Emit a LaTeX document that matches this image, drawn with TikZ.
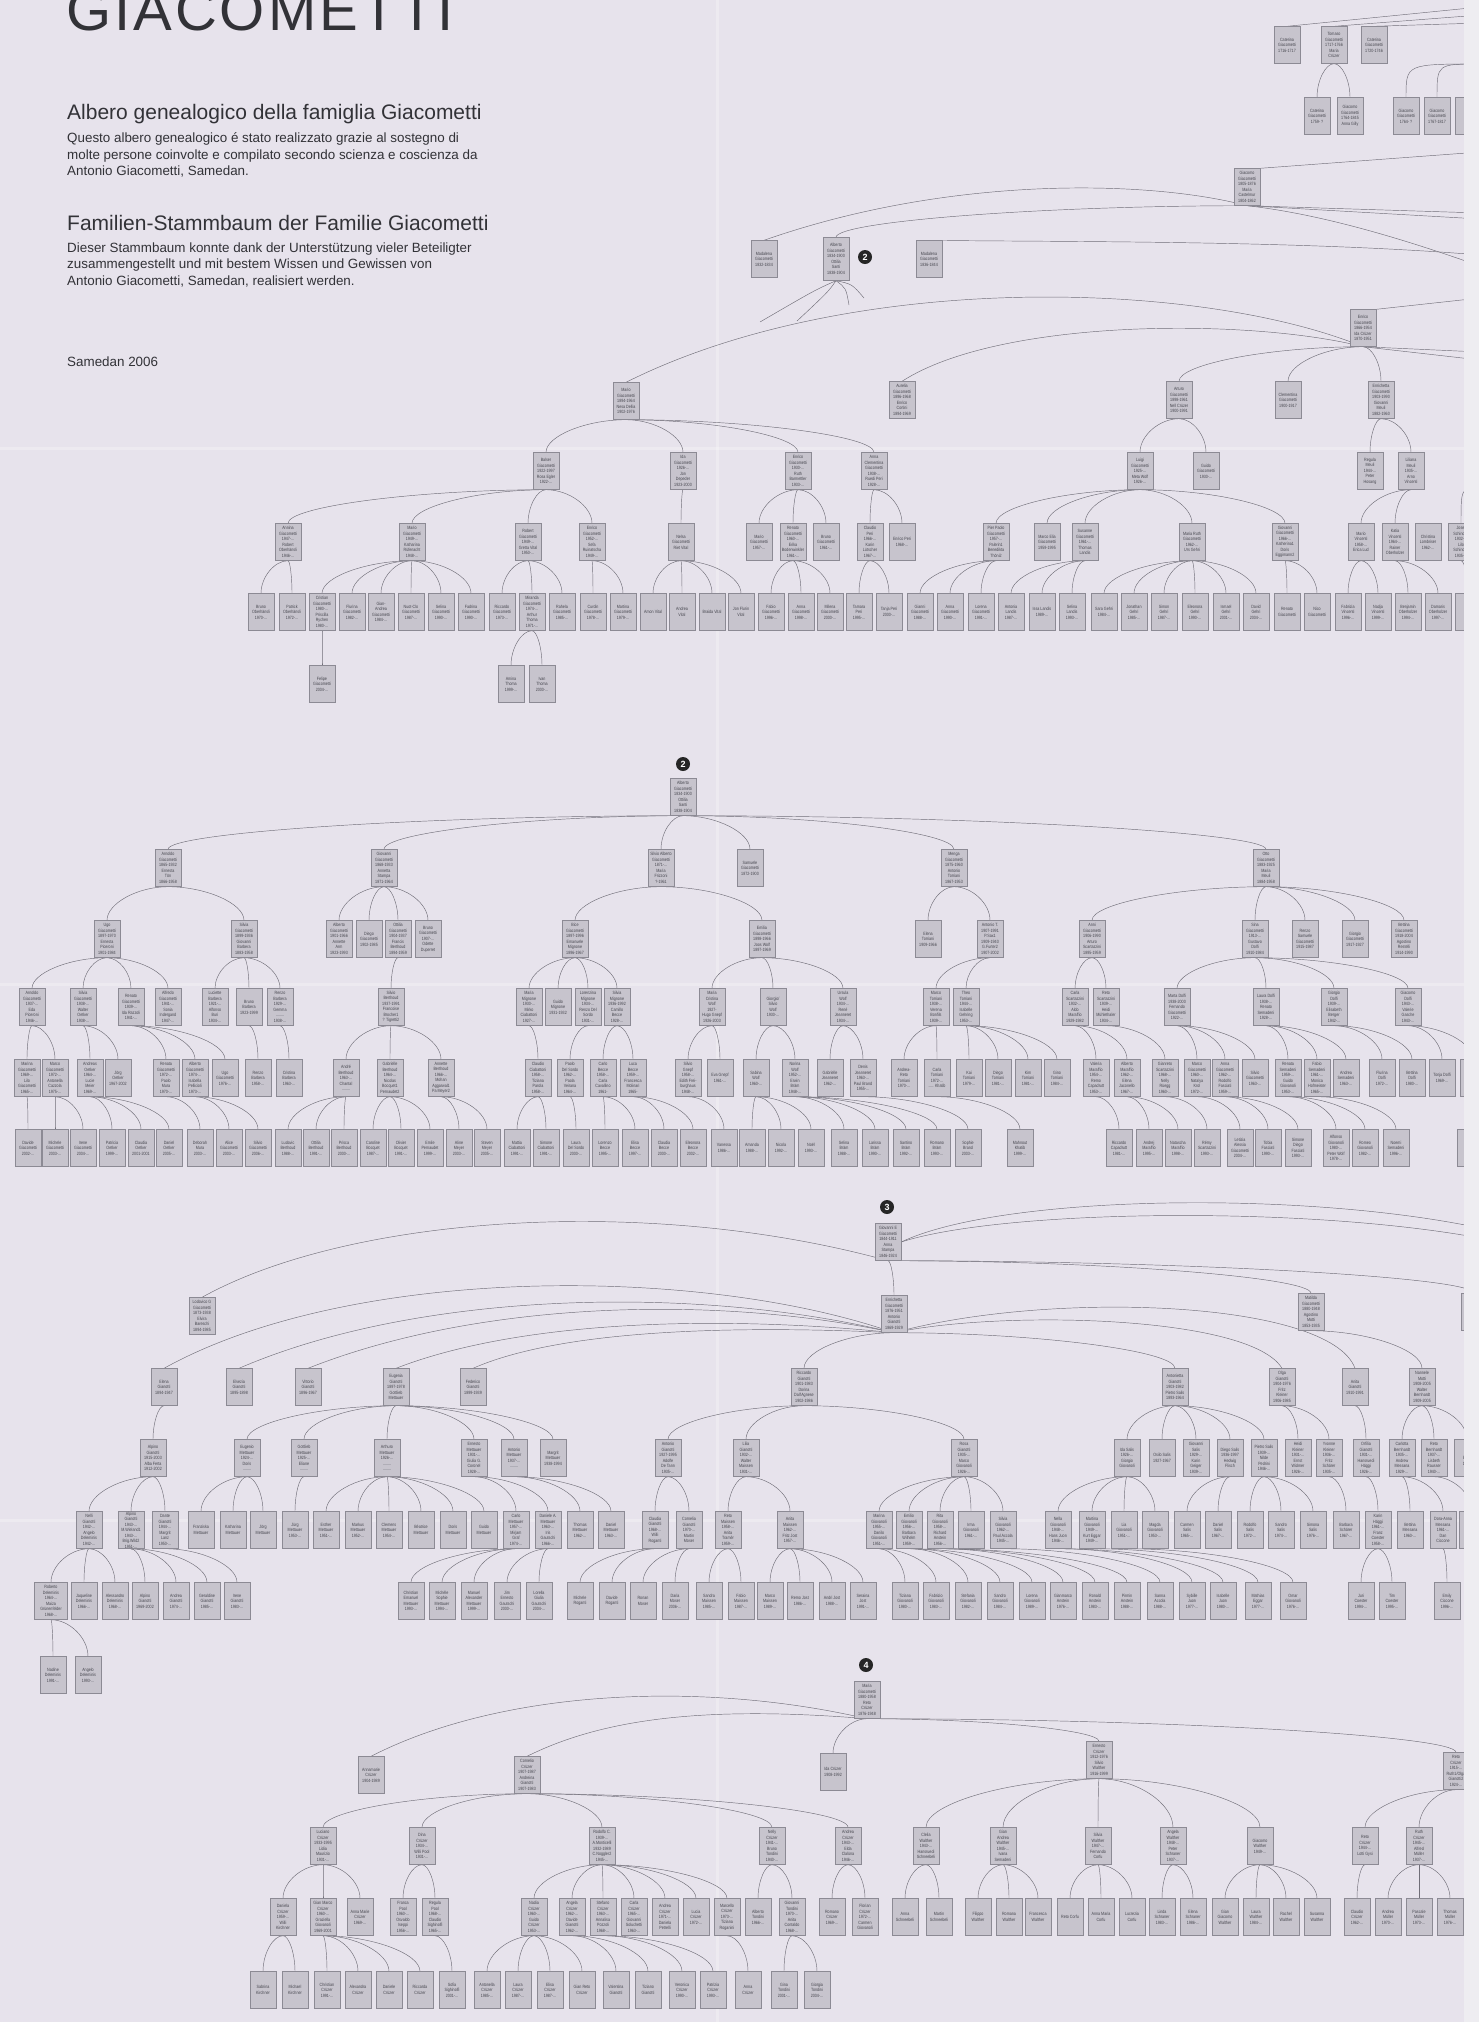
\documentclass[tikz,border=0pt]{standalone}
\usepackage{fontspec}
\setmainfont{Liberation Sans}
\newfontfamily\bxfont[FakeStretch=0.8]{Liberation Sans}
\usetikzlibrary{calc}
\definecolor{bgc}{RGB}{231,227,236}
\definecolor{bxf}{RGB}{199,196,205}
\definecolor{bxd}{RGB}{140,138,148}
\definecolor{txc}{RGB}{70,70,78}
\definecolor{lnc}{RGB}{112,110,120}
\definecolor{hdc}{RGB}{50,50,55}
\definecolor{stc}{RGB}{238,237,241}
\pgfdeclarelayer{back}
\pgfdeclarelayer{bg}
\pgfsetlayers{back,bg,main}
\newcommand\bx{\bxfont\fontsize{4.6}{5.5}\selectfont}
\newcommand\pn[4]{\node[pb] (#1) at (#2,#3) {#4};}
\newcommand\lk[2]{\foreach \cc in {#2}{\draw[lnk] (#1.south) .. controls ($(#1.south)!.5!(#1.south -| \cc.north)$) and ($(\cc.north)!.5!(#1.south -| \cc.north)$) .. (\cc.north);}}
\begin{document}
\begin{tikzpicture}[x=1pt,y=-1pt,
  pb/.style={draw=bxd,fill=bxf,line width=0.4pt,minimum width=26pt,minimum height=37pt,inner sep=0.4pt,align=center,font=\bx,text=txc},
  lnk/.style={draw=lnc,line width=0.45pt},
  numc/.style={circle,fill=black!85,text=white,inner sep=0pt,minimum size=14pt,font=\bfseries\fontsize{9}{9}\selectfont},
  hd/.style={anchor=base west,text=hdc,inner sep=0pt}]
\useasboundingbox (0,0) rectangle (1479,2022);
\begin{pgfonlayer}{back}
\fill[bgc] (0,0) rectangle (1479,2022);
\fill[white,opacity=0.25] (716,0) rectangle (719,2022);
\fill[white,opacity=0.25] (0,447) rectangle (1479,450);
\fill[white,opacity=0.25] (0,983) rectangle (1479,986);
\fill[white,opacity=0.25] (0,1519) rectangle (1479,1522);
\end{pgfonlayer}
% ---------- header ----------
\node[hd,font=\fontsize{58}{58}\selectfont] (ttl) at (66,30) {G\kern3pt I\kern3pt A\kern3pt C\kern3pt O\kern3pt M\kern3pt E\kern3pt T\kern3pt T\kern3pt I};
\node[hd,font=\fontsize{21}{24}\selectfont] (h1) at (67,119.5) {Albero genealogico della famiglia Giacometti};
\node[hd,font=\fontsize{13.4}{16}\selectfont] (h1a) at (67,142.7) {Questo albero genealogico é stato realizzato grazie al sostegno di};
\node[hd,font=\fontsize{13.4}{16}\selectfont] (h1b) at (67,159) {molte persone coinvolte e compilato secondo scienza e coscienza da};
\node[hd,font=\fontsize{13.4}{16}\selectfont] (h1c) at (67,175.3) {Antonio Giacometti, Samedan.};
\node[hd,font=\fontsize{21}{24}\selectfont] (h2) at (67,230) {Familien-Stammbaum der Familie Giacometti};
\node[hd,font=\fontsize{13.4}{16}\selectfont] (h2a) at (67,252.3) {Dieser Stammbaum konnte dank der Unterstützung vieler Beteiligter};
\node[hd,font=\fontsize{13.4}{16}\selectfont] (h2b) at (67,268.7) {zusammengestellt und mit bestem Wissen und Gewissen von};
\node[hd,font=\fontsize{13.4}{16}\selectfont] (h2c) at (67,285) {Antonio Giacometti, Samedan, realisiert werden.};
\node[hd,font=\fontsize{13.4}{16}\selectfont] (h3) at (67,366.7) {Samedan 2006};
% ================= SECTION 1 =================
\pn{a01}{1287}{45}{Caterina\\Giacometti\\1716-1717}
\pn{a02}{1334}{45}{Tomaso\\Giacometti\\1717-1766\\Maria\\Crüzer}
\pn{a03}{1374}{45}{Caterina\\Giacometti\\1720-1746}
\pn{a04}{1317}{116}{Caterina\\Giacometti\\1759- ?}
\pn{a05}{1350}{116}{Giacomo\\Giacometti\\1764-1845\\Anna Gilly}
\pn{a06}{1406}{116}{Giacomo\\Giacometti\\1764- ?}
\pn{a07}{1437}{116}{Giacomo\\Giacometti\\1767-1817}
\pn{a08}{1468}{116}{Ca\\Gia\\17}
\pn{g05}{1247}{187}{Giacomo\\Giacometti\\1805-1876\\Maria\\Castelmur\\1804-1862}
\pn{b1}{764}{259}{Madalena\\Giacometti\\1832-1834}
\node[pb,minimum height=43pt] (b2) at (836,259) {Alberto\\Giacometti\\1834-1900\\Ottilia\\Santi\\1838-1904};
\pn{b3}{929}{259}{Madalena\\Giacometti\\1836-1844}
\node[numc] (n2a) at (865,257) {2};
\pn{en}{1363}{328}{Enrico\\Giacometti\\1866-1954\\Ida Crüzer\\1870-1951}
\pn{m94}{626}{401}{Mario\\Giacometti\\1894-1964\\Nesa Dellia\\1902-1976}
\pn{au}{902}{400}{Aurelia\\Giacometti\\1896-1968\\Enrico\\Cortini\\1894-1969}
\pn{ar}{1179}{400}{Arturo\\Giacometti\\1898-1961\\Nell Crüzer\\1900-1991}
\pn{cl}{1288}{400}{Clementina\\Giacometti\\1900-1917}
\pn{ec}{1381}{400}{Enrichetta\\Giacometti\\1903-1990\\Giovanni\\Meuli\\1882-1960}
\pn{ba}{546}{471}{Balser\\Giacometti\\1922-1997\\Rosa Egler\\1922-...}
\pn{id}{683}{471}{Ida\\Giacometti\\1926-...\\Jon\\Depeder\\1923-2000}
\pn{e30}{798}{471}{Enrico\\Giacometti\\1930-...\\Ruth\\Barmettler\\1933-...}
\pn{ac}{874}{471}{Anna\\Clementina\\Giacometti\\1938-...\\Ruedi Peri\\1928-...}
\pn{lu}{1140}{471}{Luigi\\Giacometti\\1925-...\\Meta Wolf\\1926-...}
\pn{gu}{1206}{471}{Guido\\Giacometti\\1930-...}
\pn{rg}{1370}{471}{Regula\\Meuli\\1944-...\\Peter\\Hosang}
\pn{li}{1411}{471}{Liliana\\Meuli\\1935-...\\Arno\\Vincenti}
\pn{an}{288}{542}{Annina\\Giacometti\\1947-...\\Robert\\Oberhänsli\\1946-...}
\pn{m49}{412}{542}{Mario\\Giacometti\\1949-...\\Katharina\\Rüfenacht\\1948-...}
\pn{ro}{528}{542}{Robert\\Giacometti\\1949-...\\Gretta Vital\\1950-...}
\pn{e52}{592}{542}{Enrico\\Giacometti\\1952-...\\Sefa\\Ruinatscha\\1949-...}
\pn{ne}{681}{542}{Nelsa\\Giacometti\\Riet Vital}
\pn{m57}{759}{542}{Mario\\Giacometti\\1957-...}
\pn{r60}{793}{542}{Renato\\Giacometti\\1960-...\\Erika\\Bodenwinkler\\1961-...}
\pn{b61}{826}{542}{Bruno\\Giacometti\\1961-...}
\pn{cp}{870}{542}{Claudio\\Peri\\1966-...\\Karin\\Lütscher\\1967-...}
\pn{ep}{902}{542}{Enrico Peri\\1968-...}
\pn{pp}{996}{542}{Pier Paolo\\Giacometti\\1957-...\\Palerin1\\Benedikta\\Thöni2}
\pn{me}{1047}{542}{Marco Elia\\Giacometti\\1959-1995}
\pn{su}{1085}{542}{Susanne\\Giacometti\\1961-...\\Thomas\\Landis}
\pn{mr}{1192}{542}{Maria Ruth\\Giacometti\\1962-...\\Urs Gehri}
\pn{gi}{1285}{542}{Giovanni\\Giacometti\\1966-...\\Katherina1\\Doris\\Eggimann2}
\pn{mv}{1361}{542}{Mario\\Vincenti\\1958-...\\Erica Lud}
\pn{kv}{1395}{542}{Katia\\Vincenti\\1964-...\\Rainer\\Oberholzer}
\pn{chl}{1428}{542}{Christina\\Lombriser\\1962-...}
\pn{js}{1461}{542}{Josef\\Schindler\\1932-...\\Lilo\\Schindler\\1935-...}
\pn{z01}{261}{612}{Bruno\\Oberhänsli\\1970-...}
\pn{z02}{292}{612}{Patrick\\Oberhänsli\\1972-...}
\pn{z03}{322}{612}{Cristian\\Giacometti\\1980-...\\Priscilla\\Rychen\\1980-...}
\pn{z04}{352}{612}{Flurina\\Giacometti\\1982-...}
\pn{z05}{381}{612}{Gian-\\Andrea\\Giacometti\\1984-...}
\pn{z06}{411}{612}{Nuot-Clo\\Giacometti\\1987-...}
\pn{z07}{441}{612}{Selina\\Giacometti\\1990-...}
\pn{z08}{471}{612}{Fadrina\\Giacometti\\1990-...}
\pn{z09}{502}{612}{Riccardo\\Giacometti\\1973-...}
\pn{z10}{532}{612}{Miranda\\Giacometti\\1974-...\\Arthur\\Thoma\\1971-...}
\pn{z11}{562}{612}{Rahela\\Giacometti\\1985-...}
\pn{z12}{593}{612}{Curdin\\Giacometti\\1978-...}
\pn{z13}{623}{612}{Martina\\Giacometti\\1979-...}
\pn{z14}{653}{612}{Amon Vital}
\pn{z15}{682}{612}{Andrea\\Vital}
\pn{z16}{712}{612}{Braida Vital}
\pn{z17}{741}{612}{Jon Flurin\\Vital}
\pn{z18}{771}{612}{Fabio\\Giacometti\\1996-...}
\pn{z19}{801}{612}{Anna\\Giacometti\\1998-...}
\pn{z20}{830}{612}{Milena\\Giacometti\\2000-...}
\pn{z21}{859}{612}{Tamara\\Peri\\1995-...}
\pn{z22}{889}{612}{Tanja Peri\\2000-...}
\pn{z23}{920}{612}{Gianni\\Giacometti\\1988-...}
\pn{z24}{950}{612}{Anna\\Giacometti\\1990-...}
\pn{z25}{981}{612}{Lorena\\Giacometti\\1991-...}
\pn{z26}{1011}{612}{Antonia\\Landis\\1987-...}
\pn{z27}{1042}{612}{Issa Landis\\1989-...}
\pn{z28}{1072}{612}{Selina\\Landis\\1993-...}
\pn{z29}{1104}{612}{Sara Gehri\\1984-...}
\pn{z30}{1134}{612}{Jonathan\\Gehri\\1985-...}
\pn{z31}{1164}{612}{Simon\\Gehri\\1987-...}
\pn{z32}{1195}{612}{Eleonora\\Gehri\\1990-...}
\pn{z33}{1226}{612}{Ismael\\Gehri\\2001-...}
\pn{z34}{1256}{612}{David\\Gehri\\2004-...}
\pn{z35}{1287}{612}{Renato\\Giacometti}
\pn{z36}{1317}{612}{Nico\\Giacometti}
\pn{z37}{1348}{612}{Fabrizia\\Vincenti\\1996-...}
\pn{z38}{1378}{612}{Nadja\\Vincenti\\1999-...}
\pn{z39}{1408}{612}{Benjamin\\Oberholzer\\1994-...}
\pn{z40}{1438}{612}{Damaris\\Oberholzer\\1997-...}
\pn{z41}{1468}{612}{Li\\Sch\\19}
\pn{fe}{322}{684}{Felipe\\Giacometti\\2004-...}
\pn{amt}{511}{684}{Amina\\Thoma\\1999-...}
\pn{iv}{542}{684}{Ivan\\Thoma\\2000-...}
\coordinate (o1) at (1480,7); \coordinate (o2) at (1480,15); \coordinate (o3) at (1480,23);
\coordinate (o4) at (1480,64); \coordinate (o6) at (1480,152); \coordinate (o7) at (1480,213);
\coordinate (o8) at (1480,219); \coordinate (o9) at (1480,255); \coordinate (o10) at (1480,266);
\coordinate (o11) at (1480,298); \coordinate (o12) at (1480,352); \coordinate (o13) at (1480,360);
\coordinate (o14) at (1480,488);
\coordinate (s1) at (760,322); \coordinate (s2) at (797,321); \coordinate (s3) at (849,305); \coordinate (s4) at (864,298);
% ================= SECTION 2 =================
\node[numc] (n2b) at (683,764) {2};
\node[pb,minimum height=37pt] (al) at (683,797) {Alberto\\Giacometti\\1834-1900\\Ottilia\\Santi\\1838-1904};
\pn{arn}{168}{868}{Arnoldo\\Giacometti\\1865-1932\\Ernesta\\Tön\\1866-1958}
\pn{gio}{384}{868}{Giovanni\\Giacometti\\1868-1933\\Annetta\\Stampa\\1871-1964}
\pn{sal}{661}{868}{Silvio Alberto\\Giacometti\\1871-...\\Maria\\Frizzoni\\?-1961}
\pn{sam}{750}{868}{Samuele\\Giacometti\\1872-1900}
\pn{men}{954}{868}{Menga\\Giacometti\\1875-1960\\Antonio\\Torriani\\1867-1953}
\pn{ott}{1266}{868}{Otto\\Giacometti\\1883-1925\\Maria\\Meuli\\1884-1958}
\pn{ugo}{107}{939}{Ugo\\Giacometti\\1897-1970\\Ernesta\\Piceroni\\1901-1984}
\pn{svb}{244}{939}{Silvia\\Giacometti\\1899-1936\\Giovanni\\Barbera\\1883-1958}
\pn{alb}{339}{939}{Alberto\\Giacometti\\1901-1966\\Annette\\Arm\\1923-1993}
\pn{die}{369}{939}{Diego\\Giacometti\\1902-1985}
\pn{oti}{398}{939}{Ottilia\\Giacometti\\1904-1937\\Francis\\Berthoud\\1894-1959}
\pn{bru}{428}{939}{Bruno\\Giacometti\\1907-...\\Odette\\Duperret}
\pn{bic}{575}{939}{Bice\\Giacometti\\1897-1996\\Emanuele\\Mignone\\1896-1967}
\pn{emi}{762}{939}{Emilia\\Giacometti\\1898-1966\\Joos Wolf\\1897-1969}
\pn{elt}{928}{939}{Elena\\Torriani\\1909-1966}
\pn{ant}{990}{939}{Antonio T.\\1907-1991\\P.Sax1\\1909-1940\\G.Furter2\\1907-2002}
\pn{ann}{1092}{939}{Anni\\Giacometti\\1906-1990\\Arturo\\Scartazzini\\1895-1959}
\pn{sin}{1255}{939}{Sina\\Giacometti\\1913-...\\Gustavo\\Dolfi\\1910-1984}
\pn{rsa}{1305}{939}{Renzo\\Samuele\\Giacometti\\1915-1987}
\pn{gio2}{1355}{939}{Giorgio\\Giacometti\\1917-1927}
\pn{bet}{1404}{939}{Bettina\\Giacometti\\1918-2004\\Agostino\\Restelli\\1914-1990}
\pn{ar37}{32}{1007}{Arnoldo\\Giacometti\\1937-...\\Eda\\Piceroni\\1946-...}
\pn{si38}{83}{1007}{Silvia\\Giacometti\\1938-...\\Walter\\Oetker\\1938-...}
\pn{re39}{131}{1007}{Renato\\Giacometti\\1939-...\\Ida Razzoli\\1941-...}
\pn{alf}{168}{1007}{Alfredo\\Giacometti\\1941-...\\Sonia\\Indergand\\1947-...}
\pn{luc}{215}{1007}{Luciette\\Barbera\\1921-...\\Alfonso\\Buri\\1934-...}
\pn{bba}{249}{1007}{Bruno\\Barbera\\1923-1999}
\pn{rba}{280}{1007}{Renzo\\Barbera\\1929-...\\Gemma\\........\\1938-...}
\pn{svb2}{391}{1007}{Silvio\\Berthoud\\1937-1991\\Francoise\\Brocher1\\? Tigretti2}
\pn{mmi}{529}{1007}{Maria\\Mignone\\1930-...\\Mirko\\Ciabattoni\\1927-...}
\pn{gmi}{558}{1007}{Guido\\Mignone\\1931-1932}
\pn{lmi}{588}{1007}{Lorenzina\\Mignone\\1934-...\\Renzo Del\\Sordo\\1931-...}
\pn{smi}{617}{1007}{Silvia\\Mignone\\1936-1992\\Camillo\\Becce\\1928-...}
\pn{mcw}{712}{1007}{Maria\\Cristina\\Wolf\\1927-\\Hugo Gnepf\\1926-2003}
\pn{gsw}{773}{1007}{Giorgio/\\Silvio\\Wolf\\1930-...}
\pn{usw}{843}{1007}{Ursula\\Wolf\\1934-...\\René\\Jeanneret\\1934-...}
\pn{mto}{936}{1007}{Marco\\Torriani\\1938-...\\Verena\\Bonfils\\1939-...}
\pn{tto}{966}{1007}{Theo\\Torriani\\1944-...\\Isabelle\\Gehring\\1953-...}
\pn{csc}{1075}{1007}{Carla\\Scartazzini\\1932-...\\Aldo\\Maraffio\\1929-1982}
\pn{rsc}{1106}{1007}{Reto\\Scartazzini\\1939-...\\Heidi\\Mühlethaler\\1934-...}
\pn{mdo}{1177}{1007}{Marta Dolfi\\1938-2000\\Fernando\\Giacometti\\1922-...}
\pn{ldo}{1266}{1007}{Laura Dolfi\\1938-...\\Renato\\Semadeni\\1928-...}
\pn{gdo}{1334}{1007}{Giorgio\\Dolfi\\1939-...\\Elisabeth\\Berger\\1942-...}
\pn{gcd}{1408}{1007}{Giacomo\\Dolfi\\1943-...\\Valerie\\Gasche\\1943-...}
\pn{ma69}{27}{1078}{Marina\\Giacometti\\1969-...\\Lilo\\Giacometti\\1965-...}
\pn{mc72}{55}{1078}{Marco\\Giacometti\\1972-...\\Antonella\\Cazzola\\1975-...}
\pn{aoe}{90}{1078}{Andreas\\Oetker\\1964-...\\Lucie\\Meier\\1969-...}
\pn{joe}{118}{1078}{Jörg\\Oetker\\1967-2002}
\pn{rg72}{166}{1078}{Renata\\Giacometti\\1972-...\\Paolo\\Mura\\1970-...}
\pn{al74}{195}{1078}{Alberto\\Giacometti\\1974-...\\Isabella\\Pellicioli\\1973-...}
\pn{ug76}{225}{1078}{Ugo\\Giacometti\\1976-...}
\pn{rb58}{258}{1078}{Renzo\\Barbera\\1958-...}
\pn{cb63}{289}{1078}{Cristina\\Barbera\\1963-...}
\pn{abe}{346}{1078}{André\\Berthoud\\1963-...\\Chantal\\........}
\pn{gbe}{390}{1078}{Gabrielle\\Berthoud\\1964-...\\Nicolas\\Bocquet1\\Pernaudet2}
\pn{ane}{441}{1078}{Annette\\Berthoud\\1966-...\\Mohan\\Aggarwal1\\Pa Meyer2}
\pn{cci}{538}{1078}{Claudio\\Ciabattoni\\1958-...\\Tiziana\\Parola\\1958-...}
\pn{pds}{570}{1078}{Paolo\\Del Sordo\\1962-...\\Paola\\Veirana\\1964-...}
\pn{cbe}{603}{1078}{Carlo\\Becce\\1958-...\\Carla\\Cavallino\\1961-}
\pn{lbe}{633}{1078}{Luca\\Becce\\1959-...\\Francesca\\Molinari\\1965-}
\pn{sgn}{688}{1078}{Silvio\\Gnepf\\1958-...\\Edith Frei-\\burghaus\\1948-...}
\pn{egn}{720}{1078}{Eva Gnepf\\1961-...}
\pn{swo}{756}{1078}{Sabina\\Wolf\\1960-...}
\pn{nwo}{795}{1078}{Norina\\Wolf\\1952-...\\Erwin\\Bräm\\1948-...}
\pn{gje}{830}{1078}{Gabrielle\\Jeanneret\\1962-...}
\pn{dje}{863}{1078}{Denis\\Jeanneret\\1963-...\\Paul Brand\\1955-...}
\pn{art}{904}{1078}{Andrea-\\Reto\\Torriani\\1970-...}
\pn{cto}{937}{1078}{Carla\\Torriani\\1972-...\\..... Khatib}
\pn{kai}{969}{1078}{Kai\\Torriani\\1979-...}
\pn{dit}{998}{1078}{Diego\\Torriani\\1981-...}
\pn{kim}{1028}{1078}{Kim\\Torriani\\1981-...}
\pn{gno}{1057}{1078}{Gino\\Torriani\\1984-...}
\pn{vma}{1096}{1078}{Valeria\\Maraffio\\1954-...\\Remo\\Capadrutt\\1953-...}
\pn{ama}{1127}{1078}{Alberto\\Maraffio\\1962-...\\Elena\\Jaconello\\1967-...}
\pn{gsc}{1165}{1078}{Gianreto\\Scartazzini\\1968-...\\Nelly\\Rüegg\\1960-...}
\pn{mg60}{1197}{1078}{Marco\\Giacometti\\1960-...\\Natalya\\Krol\\1972-...}
\pn{ag62}{1225}{1078}{Anna\\Giacometti\\1962-...\\Rodolfo\\Fasciati\\1959-...}
\pn{sg63}{1255}{1078}{Silvio\\Giacometti\\1963-...}
\pn{rse}{1288}{1078}{Renata\\Semadeni\\1959-...\\Guido\\Giovanoli\\1953-...}
\pn{fse}{1317}{1078}{Fabio\\Semadeni\\1961-...\\Monica\\Hofmeister\\1965-...}
\pn{ase}{1346}{1078}{Andrea\\Semadeni\\1963-...}
\pn{fdo}{1382}{1078}{Flurina\\Dolfi\\1972-...}
\pn{bdo}{1412}{1078}{Bettina\\Dolfi\\1980-...}
\pn{tdo}{1442}{1078}{Tonja Dolfi\\1969-...}
\pn{vex}{1473}{1078}{Ve\\1\\O\\T\\1}
\pn{d02}{28}{1148}{Davide\\Giacometti\\2002-...}
\pn{mi03}{55}{1148}{Michele\\Giacometti\\2003-...}
\pn{ir04}{83}{1148}{Irene\\Giacometti\\2004-...}
\pn{pao}{112}{1148}{Patricia\\Oetker\\1999-...}
\pn{cla}{141}{1148}{Claudia\\Oetker\\2001-2001}
\pn{dao}{169}{1148}{Daniel\\Oetker\\2005-...}
\pn{dmu}{200}{1148}{Deborah\\Mura\\2003-...}
\pn{alc}{229}{1148}{Alice\\Giacometti\\2003-...}
\pn{sg06}{258}{1148}{Silvio\\Giacometti\\2006-...}
\pn{lbt}{288}{1148}{Ludovic\\Berthoud\\1988-...}
\pn{obt}{316}{1148}{Ottilia\\Berthoud\\1991-...}
\pn{pbt}{344}{1148}{Prisca\\Berthoud\\2000-...}
\pn{cbo}{373}{1148}{Caroline\\Bocquet\\1987-...}
\pn{obo}{401}{1148}{Olivier\\Bocquet\\1991-...}
\pn{epe}{430}{1148}{Emile\\Pernaudet\\1999-...}
\pn{ame}{459}{1148}{Aline\\Meyer\\2003-...}
\pn{sme}{487}{1148}{Steven\\Meyer\\2005-...}
\pn{mci}{517}{1148}{Mattia\\Ciabattoni\\1991-...}
\pn{sci}{546}{1148}{Simone\\Ciabattoni\\1991-...}
\pn{lds}{576}{1148}{Laura\\Del Sordo\\2000-...}
\pn{lbc}{605}{1148}{Lorenzo\\Becce\\1995-...}
\pn{ebc}{635}{1148}{Elisa\\Becce\\1997-...}
\pn{clb}{664}{1148}{Claudia\\Becce\\2000-...}
\pn{elb}{693}{1148}{Eleonora\\Becce\\2002-...}
\pn{van}{724}{1148}{Vanessa\\1986-...}
\pn{ama2}{752}{1148}{Amanda\\1988-...}
\pn{nic}{781}{1148}{Nicola\\1992-...}
\pn{noe}{811}{1148}{Noël\\1993-...}
\pn{sbr}{844}{1148}{Selina\\Bräm\\1988-...}
\pn{lbr}{875}{1148}{Larissa\\Bräm\\1990-...}
\pn{snb}{906}{1148}{Santino\\Bräm\\1992-...}
\pn{rbr}{937}{1148}{Romano\\Bräm\\1993-...}
\pn{sbd}{968}{1148}{Sophie\\Brand\\2003-...}
\pn{mkh}{1020}{1148}{Mahnout\\Khatib\\1999-...}
\pn{rca}{1119}{1148}{Riccardo\\Capadrutt\\1981-...}
\pn{ama3}{1149}{1148}{Andrej\\Maraffio\\1995-...}
\pn{nma}{1178}{1148}{Natascha\\Maraffio\\1998-...}
\pn{rsz}{1207}{1148}{Rémy\\Scartazzini\\1993-...}
\pn{lag}{1240}{1148}{Letizia\\Alessia\\Giacometti\\2004-...}
\pn{tfa}{1268}{1148}{Tobia\\Fasciati\\1990-...}
\pn{sdf}{1298}{1148}{Simone\\Diego\\Fasciati\\1993-...}
\pn{agi}{1336}{1148}{Alfonso\\Giovanoli\\1980-...\\Peter Wolf\\1978-...}
\pn{rgi}{1365}{1148}{Romeo\\Giovanoli\\1982-...}
\pn{nse}{1396}{1148}{Noemi\\Semadeni\\1996-...}
\pn{sx1}{1470}{1148}{Se\\Ti\\20}
% ================= SECTION 3 =================
\node[numc] (n3) at (887,1207) {3};
\pn{ge}{888}{1242}{Giovanni E\\Giacometti\\1844-1911\\Anna\\Stampa\\1846-1924}
\pn{enr}{894}{1314}{Enrichetta\\Giacometti\\1876-1951\\Antonio\\Gianotti\\1869-1929}
\pn{mat}{1311}{1312}{Matilda\\Giacometti\\1880-1948\\Agostino\\Motti\\1853-1935}
\pn{rxb}{1474}{1312}{}
\pn{lod}{202}{1316}{Lodovico G\\Giacometti\\1873-1938\\Elvira\\Bareschi\\1894-1985}
\pn{ele}{164}{1387}{Elena\\Gianotti\\1894-1947}
\pn{elv}{239}{1387}{Elvezia\\Gianotti\\1895-1898}
\pn{vit}{308}{1387}{Vittorio\\Gianotti\\1896-1967}
\pn{eug}{396}{1387}{Eugenia\\Gianotti\\1897-1978\\Gottlieb\\Mettauer}
\pn{fed}{473}{1387}{Federico\\Gianotti\\1899-1939}
\pn{ric}{804}{1387}{Riccardo\\Gianotti\\1901-1983\\Dorina\\Dall'Agnese\\1902-1986}
\pn{ani}{1175}{1387}{Antonietta\\Gianotti\\1903-1982\\Pietro Salis\\1893-1964}
\pn{olg}{1282}{1387}{Olga\\Gianotti\\1904-1976\\Fritz\\Kleiner\\1906-1985}
\pn{ait}{1355}{1387}{Anita\\Gianotti\\1910-1991}
\pn{nan}{1422}{1387}{Nannele\\Motti\\1908-2005\\Walter\\Bernhardt\\1909-2005}
\pn{alp}{153}{1458}{Alpino\\Gianotti\\1915-2003\\Alba Ferta\\1912-2002}
\pn{eum}{247}{1458}{Eugenio\\Mettauer\\1924-...\\Doris\\........}
\pn{gom}{304}{1458}{Gottlieb\\Mettauer\\1925-...\\Eliane\\........}
\pn{arm}{387}{1458}{Arthuro\\Mettauer\\1926-...\\........\\........}
\pn{erm}{474}{1458}{Ernesto\\Mettauer\\1931-...\\Giulia G.\\Coronel\\1928-...}
\pn{anm}{514}{1458}{Antonio\\Mettauer\\1937-...\\........}
\pn{mam}{553}{1458}{Margrit\\Mettauer\\1938-1994}
\pn{ag27}{668}{1458}{Antonio\\Gianotti\\1927-1995\\Adolfe\\De Tann\\1935-...}
\pn{lil}{746}{1458}{Lilia\\Gianotti\\1932-...\\Walter\\Maissen\\1931-...}
\pn{ros}{964}{1458}{Rosa\\Gianotti\\1935-...\\Marco\\Giovanoli\\1926-...}
\pn{ida}{1127}{1458}{Ida Salis\\1926-...\\Giorgio\\Giovanoli}
\pn{osi}{1162}{1458}{Osilo Salis\\1927-1967}
\pn{gsa}{1196}{1458}{Giovanni\\Salis\\1929-...\\Karin\\Geiger\\1939-...}
\pn{dsa}{1230}{1458}{Diego Salis\\1936-1997\\Hedwig\\Flisch}
\pn{psa}{1264}{1458}{Pietro Salis\\1939-...\\Nilde\\Pedrini\\1946-...}
\pn{hkl}{1298}{1458}{Heidi\\Kleiner\\1931-...\\Ernst\\Widmer\\1926-...}
\pn{ykl}{1329}{1458}{Yvonne\\Kleiner\\1936-...\\Fritz\\Schärer\\1935-...}
\pn{orf}{1366}{1458}{Orfilia\\Gianotti\\1931-...\\Hansruedi\\Häggi\\1926-...}
\pn{car}{1402}{1458}{Carlotta\\Bernhardt\\1935-...\\Andrew\\Messana\\1929-...}
\pn{rbe}{1434}{1458}{Reto\\Bernhardt\\1937-...\\Lisbeth\\Rausser\\1940-...}
\pn{sbe}{1467}{1458}{Sil\\Bern\\1941}
\pn{nel}{89}{1530}{Nelli\\Gianotti\\1942-...\\Angelo\\Deleminis\\1942-...}
\pn{a43}{131}{1530}{Alpino\\Gianotti\\1943-...\\M.Wieland1\\1943-...\\Brig.Wild2\\1951-...}
\pn{dan}{165}{1530}{Dante\\Gianotti\\1944-...\\Margrit\\Lanz\\1950-...}
\pn{fra}{201}{1530}{Franziska\\Mettauer}
\pn{kat}{233}{1530}{Katharina\\Mettauer}
\pn{jom}{263}{1530}{Jörg\\Mettauer}
\pn{jum}{295}{1530}{Jürg\\Mettauer\\1953-...}
\pn{est}{326}{1530}{Esther\\Mettauer\\1951-...}
\pn{mar}{358}{1530}{Markus\\Mettauer\\1952-...}
\pn{cle}{389}{1530}{Clemens\\Mettauer\\1954-...}
\pn{bea}{421}{1530}{Béatrice\\Mettauer}
\pn{dor}{453}{1530}{Doris\\Mettauer}
\pn{gui}{484}{1530}{Guido\\Mettauer}
\pn{cam}{516}{1530}{Carlo\\Mettauer\\1957-...\\Mirjam\\Graf\\1974-...}
\pn{dam}{548}{1530}{Daniele A.\\Mettauer\\1963-...\\Iris\\Gautschi\\1966-...}
\pn{thm}{580}{1530}{Thomas\\Mettauer\\1962-...}
\pn{dnm}{611}{1530}{Daniel\\Mettauer\\1963-...}
\pn{cgi}{655}{1530}{Claudia\\Gianotti\\1968-...\\Willi\\Roganti}
\pn{cog}{689}{1530}{Cornelia\\Gianotti\\1970-...\\Martin\\Moser}
\pn{rma}{728}{1530}{Reto\\Maissen\\1958-...\\Anita\\Tramèr\\1959-...}
\pn{ama4}{790}{1530}{Anita\\Maissen\\1962-...\\Fritz Jost\\1957-...}
\pn{mgi}{879}{1530}{Marina\\Giovanoli\\1955-...\\Danilo\\Giovanoli\\1951-...}
\pn{egi}{909}{1530}{Emilio\\Giovanoli\\1956-...\\Barbara\\Wilhelm\\1959-...}
\pn{rgv}{940}{1530}{Rita\\Giovanoli\\1958-...\\Richard\\Anstein\\1956-...}
\pn{igi}{971}{1530}{Irma\\Giovanoli\\1961-...}
\pn{sgi}{1003}{1530}{Silvia\\Giovanoli\\1962-...\\Paul Accola\\1945-...}
\pn{ngi}{1058}{1530}{Nella\\Giovanoli\\1948-...\\Hans Juon\\1946-...}
\pn{mtg}{1092}{1530}{Martina\\Giovanoli\\1949-...\\Kurt Eggar\\1949-...}
\pn{lgi}{1124}{1530}{Lia\\Giovanoli\\1951-...}
\pn{mag}{1155}{1530}{Magda\\Giovanoli\\1953-...}
\pn{cas}{1187}{1530}{Carmen\\Salis\\1965-...}
\pn{das}{1218}{1530}{Daniel\\Salis\\1967-...}
\pn{ros2}{1250}{1530}{Rodolfo\\Salis\\1972-...}
\pn{ssa}{1281}{1530}{Sandro\\Salis\\1974-...}
\pn{sms}{1313}{1530}{Simona\\Salis\\1976-...}
\pn{bsc}{1346}{1530}{Barbara\\Schärer\\1967-...}
\pn{kha}{1378}{1530}{Karin\\Häggi\\1961-...\\Franz\\Coester\\1958-...}
\pn{bme}{1410}{1530}{Bettina\\Messana\\1960-...}
\pn{dme}{1443}{1530}{Dora-Anna\\Messana\\1961-...\\Dan\\Ciccone}
\pn{axb}{1472}{1530}{A\\B\\1}
\node[pb,minimum width=33pt] (rde) at (51,1601) {Roberto\\Deleminis\\1964-...\\Maiza\\Grünenfelder\\1968-...};
\pn{jde}{84}{1601}{Jaqueline\\Deleminis\\1966-...}
\pn{ade}{115}{1601}{Alessandro\\Deleminis\\1968-...}
\pn{a69}{145}{1601}{Alpino\\Gianotti\\1969-2002}
\pn{agn}{176}{1601}{Andrea\\Gianotti\\1974-...}
\pn{gge}{207}{1601}{Geraldine\\Gianotti\\1985-...}
\pn{ign}{237}{1601}{Irene\\Gianotti\\1983-...}
\pn{cme}{411}{1601}{Christian\\Emanuel\\Mettauer\\1993-...}
\pn{mso}{442}{1601}{Michèle\\Sophie\\Mettauer\\1994-...}
\pn{mam2}{474}{1601}{Manuel\\Alexander\\Mettauer\\1999-...}
\pn{jga}{507}{1601}{Jim\\Ernesto\\Gautschi\\2000-...}
\pn{lga}{539}{1601}{Lorella\\Giulia\\Gautschi\\2004-...}
\pn{mro}{580}{1601}{Michele\\Roganti}
\pn{dro}{612}{1601}{Davide\\Roganti}
\pn{rmo}{643}{1601}{Ronan\\Moser}
\pn{dmo}{675}{1601}{Daria\\Moser\\2006-...}
\pn{sma}{709}{1601}{Sandra\\Maissen\\1985-...}
\pn{fma}{741}{1601}{Fabio\\Maissen\\1987-...}
\pn{mma}{770}{1601}{Marco\\Maissen\\1989-...}
\pn{rjo}{800}{1601}{Remo Jost\\1986-...}
\pn{ajo}{832}{1601}{Andri Jost\\1988-...}
\pn{sjo}{863}{1601}{Seraina\\Jost\\1991-...}
\pn{tgi}{905}{1601}{Tiziana\\Giovanoli\\1980-...}
\pn{fgi}{936}{1601}{Fabrizio\\Giovanoli\\1983-...}
\pn{stg}{968}{1601}{Stefania\\Giovanoli\\1982-...}
\pn{sag}{1000}{1601}{Sandro\\Giovanoli\\1984-...}
\pn{log}{1032}{1601}{Lorena\\Giovanoli\\1989-...}
\pn{gan}{1063}{1601}{Gianmarco\\Anstein\\1976-...}
\pn{ran}{1095}{1601}{Ronald\\Anstein\\1983-...}
\pn{pan}{1127}{1601}{Pirmin\\Anstein\\1988-...}
\pn{sac}{1160}{1601}{Sanna\\Accola\\1988-...}
\pn{syj}{1192}{1601}{Sybille\\Juon\\1977-...}
\pn{isj}{1223}{1601}{Isabelle\\Juon\\1980-...}
\pn{meg}{1258}{1601}{Mathias\\Eggar\\1977-...}
\pn{omg}{1293}{1601}{Omar\\Giovanoli\\1976-...}
\pn{jco}{1361}{1601}{Juri\\Coester\\1994-...}
\pn{tco}{1392}{1601}{Tim\\Coester\\1995-...}
\pn{ecc}{1447}{1601}{Emily\\Ciccone\\1996-...}
\pn{nad}{53}{1675}{Nadine\\Deleminis\\1991-...}
\pn{ang}{88}{1675}{Angelo\\Deleminis\\1993-...}
\coordinate (o31) at (1480,1228); \coordinate (o32) at (1480,1238);
% ================= SECTION 4 =================
\node[numc] (n4) at (866,1665) {4};
\pn{mar80}{867}{1700}{Maria\\Giacometti\\1880-1958\\Reto\\Crüzer\\1876-1948}
\pn{anm4}{371}{1775}{Annamarie\\Crüzer\\1904-1989}
\pn{cor}{527}{1775}{Cornelio\\Crüzer\\1907-1987\\Andreina\\Gianotti\\1907-1983}
\pn{icr}{833}{1772}{Ida Crüzer\\1908-1992}
\pn{ern}{1099}{1760}{Ernesto\\Crüzer\\1912-1976\\Silvio\\Walther\\1916-1999}
\pn{r15}{1456}{1771}{Reto\\Crüzer\\1915-...\\Ruth1/Olga\\Gianotti2\\1924-...}
\pn{lcr}{323}{1846}{Luciano\\Crüzer\\1933-1995\\Lidia\\Maurizio\\1931-...}
\pn{dcr}{422}{1846}{Dina\\Crüzer\\1934-...\\Willi Pool\\1931-...}
\pn{rod}{602}{1846}{Rodolfo C.\\1939-...\\A.Monticelli\\1932-1989\\C.Noggler2\\1945-...}
\pn{ncr}{772}{1846}{Nelly\\Crüzer\\1941-...\\Bruno\\Tondini\\1940-...}
\pn{acr}{848}{1846}{Andrea\\Crüzer\\1943-...\\Elda\\Clalüna\\1946-...}
\pn{clw}{926}{1846}{Clelia\\Walther\\1943-...\\Hansruedi\\Schneebeli}
\pn{gaw}{1003}{1846}{Gian\\Andrea\\Walther\\1945-...\\Ivana\\Semadeni}
\pn{svw}{1098}{1846}{Silvia\\Walther\\1947-...\\Fernando\\Corfu}
\pn{agw}{1173}{1846}{Angela\\Walther\\1948-...\\Peter\\Schraner\\1937-...}
\pn{gcw}{1260}{1846}{Giacomo\\Walther\\1949-...}
\pn{rc44}{1365}{1846}{Reto\\Crüzer\\1944-...\\Lotti Gysi}
\pn{rcm}{1419}{1846}{Ruth\\Crüzer\\1945-...\\Alfred\\Müller\\1937-...}
\pn{dac}{283}{1917}{Daniela\\Crüzer\\1959-...\\Willi\\Kirchner}
\pn{gmc}{323}{1917}{Gian Marco\\Crüzer\\1960-...\\Graziella\\Giovanoli\\1969-2001}
\pn{amc}{360}{1917}{Anna Marie\\Crüzer\\1969-...}
\pn{fpo}{403}{1917}{Franca\\Pool\\1960-...\\Osvaldo\\Iseppi\\1956-...}
\pn{rpo}{435}{1917}{Regula\\Pool\\1968-...\\Claudio\\Sighinolfi\\1965-...}
\pn{nac}{534}{1917}{Nadia\\Crüzer\\1960-...\\Guido\\Crüzer\\1953-...}
\pn{anc}{572}{1917}{Angela\\Crüzer\\1962-...\\Davide\\Gianotti\\1962-...}
\pn{stc}{603}{1917}{Stefano\\Crüzer\\1963-...\\Annalisa\\Pozzoli\\1968-...}
\pn{cac}{634}{1917}{Carla\\Crüzer\\1965-...\\Giovanni\\Soluchetti\\1963-...}
\pn{a71}{665}{1917}{Andrea\\Crüzer\\1971-...\\Daniela\\Petrelli}
\pn{lcc}{696}{1917}{Lucia\\Crüzer\\1972-...}
\pn{mcc}{727}{1917}{Marcello\\Crüzer\\1973-...\\Tiziana\\Roganini}
\pn{ato}{758}{1917}{Alberto\\Tondini\\1966-...}
\pn{gto}{792}{1917}{Giovanni\\Tondini\\1970-...\\Anita\\Contaldo\\1968-...}
\pn{rcr}{832}{1917}{Romano\\Crüzer\\1969-...}
\pn{fcr}{865}{1917}{Florian\\Crüzer\\1972-...\\Carmen\\Giovanoli}
\pn{asc}{905}{1917}{Anna\\Schneebeli}
\pn{msc}{939}{1917}{Martin\\Schneebeli}
\pn{fwa}{978}{1917}{Filippo\\Walther}
\pn{rwa}{1009}{1917}{Romana\\Walther}
\pn{frw}{1038}{1917}{Francesca\\Walther}
\pn{rco}{1070}{1917}{Reto Corfu}
\pn{amf}{1101}{1917}{Anna Maria\\Corfu}
\pn{lco}{1132}{1917}{Lucrezia\\Corfu}
\pn{lsc}{1162}{1917}{Linda\\Schraner\\1983-...}
\pn{esc}{1193}{1917}{Elena\\Schraner\\1986-...}
\pn{ggw}{1225}{1917}{Gian\\Giacomo\\Walther}
\pn{law}{1256}{1917}{Laura\\Walther\\1984-...}
\pn{raw}{1286}{1917}{Rachel\\Walther}
\pn{suw}{1317}{1917}{Susanna\\Walther}
\pn{ccr}{1357}{1917}{Claudio\\Crüzer\\1962-...}
\pn{amu}{1388}{1917}{Andrea\\Müller\\1970-...}
\pn{pmu}{1419}{1917}{Pascale\\Müller\\1973-...}
\pn{tmu}{1450}{1917}{Thomas\\Müller\\1976-...}
\pn{ski}{263}{1990}{Sabrina\\Kirchner}
\pn{mki}{295}{1990}{Michael\\Kirchner}
\pn{chc}{327}{1990}{Christian\\Crüzer\\1991-...}
\pn{alx}{358}{1990}{Alexandra\\Crüzer}
\pn{dnc}{389}{1990}{Daniele\\Crüzer}
\pn{ric2}{420}{1990}{Riccarda\\Crüzer}
\pn{sof}{452}{1990}{Sofia\\Sighinolfi\\2001-...}
\pn{anc2}{487}{1990}{Antonella\\Crüzer\\1985-...}
\pn{lac}{518}{1990}{Laura\\Crüzer\\1987-...}
\pn{elc}{550}{1990}{Elisa\\Crüzer\\1987-...}
\pn{grc}{582}{1990}{Gian Reto\\Crüzer}
\pn{vgi}{616}{1990}{Valentina\\Gianotti}
\pn{tgi2}{648}{1990}{Tiziano\\Gianotti}
\pn{vcr}{682}{1990}{Veronica\\Crüzer\\1990-...}
\pn{pcr}{713}{1990}{Patrizia\\Crüzer\\1993-...}
\pn{acz}{748}{1990}{Anna\\Crüzer}
\pn{gtd}{784}{1990}{Gina\\Tondini\\2001-...}
\pn{gid}{817}{1990}{Giorgia\\Tondini\\2004-...}
% ================= CONNECTORS =================
\begin{pgfonlayer}{bg}
% section 1
\draw[lnk] (a01.north) -- (o1); \draw[lnk] (a02.north) -- (o2); \draw[lnk] (a03.north) -- (o3);
\foreach \cc in {a06,a07,a08}{\draw[lnk] (o4) .. controls (\cc.north |- o4) .. (\cc.north);}
\lk{a02}{a04,a05}
\draw[lnk] (g05.north east) -- (o6);
\draw[lnk] (g05.south) -- (o7); \draw[lnk] (g05.south) -- (o8);
\draw[lnk] (g05.south) .. controls (1330,215) and (1420,245) .. (o10);
\draw[lnk] (g05.south) .. controls (1150,180) and (950,175) .. (b1.north);
\lk{g05}{b2}
\draw[lnk] (b3.north) .. controls (1050,242) and (1300,240) .. (o9);
\draw[lnk] (b2.south) .. controls (815,290) .. (s1);
\draw[lnk] (b2.south) .. controls (828,292) .. (s2);
\draw[lnk] (b2.south) .. controls (846,288) .. (s3);
\draw[lnk] (b2.south) .. controls (852,284) .. (s4);
\draw[lnk] (en.north east) -- (o11);
\draw[lnk] (en.south) -- (o12); \draw[lnk] (en.south) -- (o13);
\draw[lnk] (en.south) .. controls (1200,280) and (850,270) .. (m94.north);
\draw[lnk] (en.south) .. controls (1250,318) and (1000,318) .. (au.north);
\lk{en}{ar,cl,ec}
\draw[lnk] (o14) .. controls (js.north |- o14) .. (js.north);
\lk{m94}{ba,id,e30,ac}
\lk{ba}{an,m49,ro,e52}
\lk{id}{ne}
\lk{e30}{m57,r60,b61}
\lk{ac}{cp,ep}
\lk{ar}{lu,gu}
\lk{ec}{rg,li}
\lk{lu}{pp,me,su,mr,gi}
\lk{li}{mv,kv}
\lk{an}{z01,z02}
\lk{m49}{z03,z04,z05,z06,z07,z08}
\lk{ro}{z09,z10,z11}
\lk{e52}{z12,z13}
\lk{ne}{z14,z15,z16,z17}
\lk{r60}{z18,z19,z20}
\lk{cp}{z21,z22}
\lk{pp}{z23,z24,z25}
\lk{su}{z26,z27,z28}
\lk{mr}{z29,z30,z31,z32,z33,z34}
\lk{gi}{z35,z36}
\lk{mv}{z37,z38}
\lk{kv}{z39,z40}
\lk{js}{z41}
\lk{z03}{fe}
\lk{z10}{amt,iv}
% section 2
\lk{al}{arn,gio,sal,sam,men,ott}
\lk{arn}{ugo,svb}
\lk{gio}{alb,die,oti,bru}
\lk{sal}{bic,emi}
\lk{men}{elt,ant}
\lk{ott}{ann,sin,rsa,gio2,bet}
\lk{ugo}{ar37,si38,re39,alf}
\lk{svb}{luc,bba,rba}
\lk{oti}{svb2}
\lk{bic}{mmi,gmi,lmi,smi}
\lk{emi}{mcw,gsw,usw}
\lk{ant}{mto,tto}
\lk{ann}{csc,rsc}
\lk{sin}{mdo,ldo,gdo,gcd}
\lk{ar37}{ma69,mc72}
\lk{si38}{aoe,joe}
\lk{re39}{rg72,al74,ug76}
\lk{bba}{rb58}
\lk{rba}{cb63}
\lk{svb2}{abe,gbe,ane}
\lk{mmi}{cci}
\lk{lmi}{pds}
\lk{smi}{cbe,lbe}
\lk{mcw}{sgn,egn}
\lk{gsw}{swo,nwo}
\lk{usw}{gje,dje}
\lk{mto}{art,cto}
\lk{tto}{kai,dit,kim,gno}
\lk{csc}{vma,ama}
\lk{rsc}{gsc}
\lk{mdo}{mg60,ag62,sg63}
\lk{ldo}{rse,fse,ase}
\lk{gdo}{fdo,bdo}
\lk{gcd}{tdo,vex}
\lk{ma69}{d02}
\lk{mc72}{mi03,ir04}
\lk{aoe}{pao,cla,dao}
\lk{rg72}{dmu}
\lk{al74}{alc,sg06}
\lk{abe}{lbt,obt,pbt}
\lk{gbe}{cbo,obo,epe}
\lk{ane}{ame,sme}
\lk{cci}{mci,sci}
\lk{pds}{lds}
\lk{cbe}{lbc,ebc}
\lk{lbe}{clb,elb}
\lk{sgn}{van}
\lk{swo}{ama2,nic,noe}
\lk{nwo}{sbr,lbr,snb,rbr}
\lk{dje}{sbd}
\lk{cto}{mkh}
\lk{vma}{rca}
\lk{ama}{ama3,nma}
\lk{gsc}{rsz}
\lk{mg60}{lag}
\lk{ag62}{tfa,sdf}
\lk{rse}{agi,rgi}
\lk{fse}{nse}
\lk{vex}{sx1}
% section 3
\lk{ge}{enr,mat,rxb}
\draw[lnk] (ge.south) .. controls (650,1195) and (350,1215) .. (lod.north);
\draw[lnk] (ge.east) .. controls (1000,1195) and (1300,1190) .. (o31);
\draw[lnk] (ge.east) .. controls (1000,1210) and (1300,1205) .. (o32);
\draw[lnk] (enr.south) .. controls (700,1265) and (350,1265) .. (ele.north);
\draw[lnk] (enr.south) .. controls (700,1285) and (420,1290) .. (elv.north);
\draw[lnk] (enr.south) .. controls (720,1295) and (480,1300) .. (vit.north);
\draw[lnk] (enr.south) .. controls (720,1315) and (520,1320) .. (eug.north);
\draw[lnk] (enr.south) .. controls (730,1325) and (560,1330) .. (fed.north);
\lk{enr}{ric,ani}
\draw[lnk] (enr.south) .. controls (1000,1310) and (1250,1315) .. (olg.north);
\draw[lnk] (enr.south) .. controls (1050,1290) and (1330,1300) .. (ait.north);
\lk{mat}{nan}
\lk{ele}{alp}
\lk{eug}{eum,gom,arm,erm,anm,mam}
\lk{ric}{ag27,lil,ros}
\lk{ani}{ida,osi,gsa,dsa,psa}
\lk{olg}{hkl,ykl}
\lk{ait}{orf}
\lk{nan}{car,rbe,sbe}
\lk{alp}{nel,a43,dan}
\lk{eum}{fra,kat,jom}
\lk{gom}{jum}
\lk{arm}{est,mar,cle,bea,dor,gui}
\lk{erm}{cam,dam}
\lk{anm}{thm,dnm}
\lk{ag27}{cgi,cog}
\lk{lil}{rma,ama4}
\lk{ros}{mgi,egi,rgv,igi,sgi}
\lk{ida}{ngi,mtg,lgi,mag}
\lk{dsa}{cas,das}
\lk{psa}{ros2,ssa,sms}
\lk{ykl}{bsc}
\lk{orf}{kha}
\lk{car}{bme,dme}
\lk{rbe}{axb}
\lk{nel}{rde,jde,ade}
\lk{a43}{a69,agn,gge}
\lk{dan}{ign}
\lk{cam}{cme,mso,mam2}
\lk{dam}{jga,lga}
\lk{cgi}{mro,dro}
\lk{cog}{rmo,dmo}
\lk{rma}{sma,fma}
\lk{ama4}{mma,rjo,ajo,sjo}
\lk{mgi}{tgi,fgi}
\lk{egi}{stg,sag,log}
\lk{rgv}{gan,ran,pan}
\lk{sgi}{sac}
\lk{ngi}{syj,isj}
\lk{mtg}{meg}
\lk{lgi}{omg}
\lk{kha}{jco,tco}
\lk{dme}{ecc}
\lk{rde}{nad,ang}
% section 4
\draw[lnk] (mar80.south) .. controls (700,1680) and (500,1690) .. (anm4.north);
\draw[lnk] (mar80.south) .. controls (700,1705) and (600,1720) .. (cor.north);
\lk{mar80}{icr,ern,r15}
\lk{cor}{lcr,dcr,rod,ncr,acr}
\lk{lcr}{dac,gmc,amc}
\lk{dcr}{fpo,rpo}
\lk{rod}{nac,anc,stc,cac,a71,lcc,mcc}
\lk{ncr}{ato,gto}
\lk{acr}{rcr,fcr}
\lk{ern}{clw,gaw,svw,agw,gcw}
\lk{clw}{asc,msc}
\lk{gaw}{fwa,rwa,frw}
\lk{svw}{rco,amf,lco}
\lk{agw}{lsc,esc}
\lk{gcw}{ggw,law,raw,suw}
\lk{r15}{rc44,rcm}
\lk{rc44}{ccr}
\lk{rcm}{amu,pmu,tmu}
\lk{dac}{ski,mki}
\lk{gmc}{chc,alx,dnc,ric2}
\lk{rpo}{sof}
\lk{nac}{anc2,lac,elc,grc}
\lk{anc}{vgi,tgi2}
\lk{stc}{vcr,pcr}
\lk{mcc}{acz}
\lk{gto}{gtd,gid}
\end{pgfonlayer}
% right paper edge strip
\fill[stc] (1464,0) rectangle (1479,2022);
\end{tikzpicture}
\end{document}
